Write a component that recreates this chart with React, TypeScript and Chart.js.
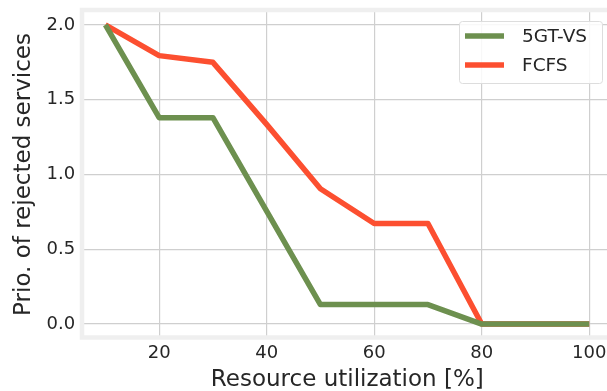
import React, { useEffect, useRef } from "react";
import { Chart, registerables } from "chart.js";

Chart.register(...registerables);

// ---- data ----
const utilization = [10, 20, 30, 40, 50, 60, 70, 80, 90, 100];
const gtvsValues = [2.0, 1.38, 1.38, 0.755, 0.13, 0.13, 0.13, 0, 0, 0];
const fcfsValues = [2.0, 1.795, 1.75, 1.335, 0.905, 0.672, 0.672, 0, 0, 0];
const seriesLabels = ["5GT-VS", "FCFS"];
const xTicks = [20, 40, 60, 80, 100];
const yTicks = [0, 0.5, 1.0, 1.5, 2.0];
const xTitle = "Resource utilization [%]";
const yTitle = "Prio. of rejected services";

const FONT = '"DejaVu Sans", sans-serif';
const TEXT = "#262626";

const framePlugin = {
  id: "axesFrame",
  beforeDatasetsDraw(chart: any) {
    const { ctx, chartArea } = chart;
    const { left, top, right, bottom } = chartArea;
    ctx.save();
    ctx.strokeStyle = "#efefef";
    ctx.lineWidth = 4.5;
    ctx.strokeRect(left + 0.8, top, right - left, bottom - top - 1.5);
    ctx.restore();
  },
};

const legendPlugin = {
  id: "boxLegend",
  afterDatasetsDraw(chart: any) {
    const { ctx } = chart;
    const x0 = 459.5;
    const y0 = 21.5;
    const w = 143;
    const h = 62;
    ctx.save();
    ctx.beginPath();
    const r = 3;
    ctx.moveTo(x0 + r, y0);
    ctx.lineTo(x0 + w - r, y0);
    ctx.quadraticCurveTo(x0 + w, y0, x0 + w, y0 + r);
    ctx.lineTo(x0 + w, y0 + h - r);
    ctx.quadraticCurveTo(x0 + w, y0 + h, x0 + w - r, y0 + h);
    ctx.lineTo(x0 + r, y0 + h);
    ctx.quadraticCurveTo(x0, y0 + h, x0, y0 + h - r);
    ctx.lineTo(x0, y0 + r);
    ctx.quadraticCurveTo(x0, y0, x0 + r, y0);
    ctx.closePath();
    ctx.fillStyle = "rgba(255,255,255,0.85)";
    ctx.fill();
    ctx.strokeStyle = "#dddddd";
    ctx.lineWidth = 1;
    ctx.stroke();
    chart.data.datasets.forEach((ds: any, i: number) => {
      const cy = 36 + i * 29;
      ctx.beginPath();
      ctx.strokeStyle = ds.borderColor;
      ctx.lineWidth = 5.5;
      ctx.lineCap = "butt";
      ctx.moveTo(465, cy);
      ctx.lineTo(504, cy);
      ctx.stroke();
      ctx.fillStyle = TEXT;
      ctx.font = `18.5px ${FONT}`;
      ctx.textBaseline = "middle";
      ctx.textAlign = "left";
      ctx.fillText(ds.label, 522, cy + 1);
    });
    ctx.restore();
  },
};

export default function App() {
  const ref = useRef<HTMLCanvasElement | null>(null);

  useEffect(() => {
    if (!ref.current) return;
    const toPoints = (vals: number[]) => utilization.map((x, i) => ({ x, y: vals[i] }));
    const chart = new Chart(ref.current, {
      type: "line",
      data: {
        datasets: [
          {
            label: seriesLabels[0],
            data: toPoints(gtvsValues),
            borderColor: "#6d904f",
            backgroundColor: "#6d904f",
            borderWidth: 5.5,
            pointRadius: 0,
            tension: 0,
            borderJoinStyle: "round",
            borderCapStyle: "butt",
          },
          {
            label: seriesLabels[1],
            data: toPoints(fcfsValues),
            borderColor: "#fc4f30",
            backgroundColor: "#fc4f30",
            borderWidth: 5.5,
            pointRadius: 0,
            tension: 0,
            borderJoinStyle: "round",
            borderCapStyle: "butt",
          },
        ],
      },
      options: {
        animation: false,
        responsive: false,
        devicePixelRatio: 1,
        layout: { padding: { left: 0, top: 10, right: 6.6, bottom: 0 } },
        plugins: { legend: { display: false }, tooltip: { enabled: false } },
        scales: {
          x: {
            type: "linear",
            min: 5.5,
            max: 104.5,
            afterBuildTicks: (s: any) => {
              s.ticks = xTicks.map((v) => ({ value: v }));
            },
            afterFit: (s: any) => {
              s.height = 52;
              s.paddingLeft = 0;
              s.paddingRight = 0;
            },
            grid: { color: "#cfcfcf", lineWidth: 1.2, drawTicks: false },
            border: { display: false },
            ticks: {
              color: TEXT,
              font: { family: FONT, size: 18 },
              padding: 4,
              maxRotation: 0,
              callback: (v: any) => String(v),
            },
            title: {
              display: true,
              text: xTitle,
              color: TEXT,
              font: { family: FONT, size: 23, lineHeight: 1 },
              padding: { top: 0, bottom: -0.5 },
            },
          },
          y: {
            type: "linear",
            min: -0.1,
            max: 2.1,
            afterBuildTicks: (s: any) => {
              s.ticks = yTicks.map((v) => ({ value: v }));
            },
            afterFit: (s: any) => {
              s.width = 81.2;
              s.paddingTop = 0;
              s.paddingBottom = 0;
            },
            grid: { color: "#cfcfcf", lineWidth: 1.2, drawTicks: false },
            border: { display: false },
            ticks: {
              color: TEXT,
              font: { family: FONT, size: 18 },
              padding: 6,
              callback: (v: any) => Number(v).toFixed(1),
            },
            title: {
              display: true,
              text: yTitle,
              color: TEXT,
              font: { family: FONT, size: 23, lineHeight: 1 },
              padding: { top: 12.5, bottom: 0 },
            },
          },
        },
      },
      plugins: [framePlugin, legendPlugin],
    });
    return () => chart.destroy();
  }, []);

  return (
    <div
      style={{
        position: "fixed",
        left: 0,
        top: 0,
        width: 607,
        height: 391,
        overflow: "hidden",
        background: "#ffffff",
      }}
    >
      <canvas ref={ref} width={620} height={391} style={{ display: "block", width: 620, height: 391 }} />
    </div>
  );
}
